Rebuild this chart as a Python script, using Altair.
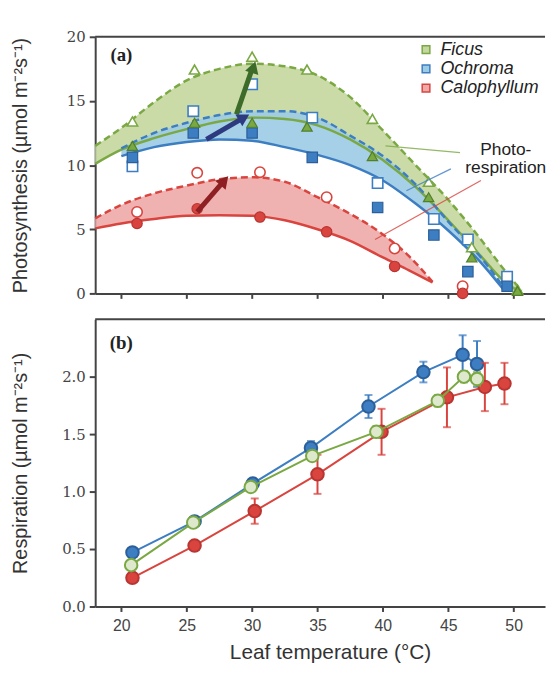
import altair as alt
import pandas as pd

# ---------------- Panel (a): photosynthesis ----------------
species = ["Ficus", "Ochroma", "Calophyllum"]

# measured points (open = gross, filled = net)
fi_t = [20.85, 25.6, 30.0, 34.2, 39.2, 43.5, 46.8, 50.3]
fi_open = [13.4, 17.45, 18.45, 17.45, 13.6, 8.7, 3.6, 0.3]
fi_fill = [11.5, 13.3, 13.3, 13.0, 10.7, 7.5, 2.8, 0.2]

oc_t = [20.85, 25.5, 30.0, 34.6, 39.6, 43.9, 46.5, 49.5]
oc_open = [9.9, 14.2, 16.3, 13.7, 8.6, 5.8, 4.2, 1.3]
oc_fill = [10.6, 12.5, 12.5, 10.6, 6.7, 4.55, 1.7, 0.56]

ca_t = [21.2, 25.8, 30.6, 35.7, 40.9, 46.1]
ca_open = [6.35, 9.4, 9.45, 7.5, 3.5, 0.56]
ca_fill = [5.45, 6.6, 5.95, 4.8, 2.1, 0.0]

# fitted curves (dashed = upper, solid = lower)
fi_ct = [18, 20, 22.5, 25, 27.5, 30, 32.5, 35, 37.5, 40, 42.5, 45, 47.5, 49, 50.6]
fi_dash = [11.5, 12.9, 14.9, 16.6, 17.5, 17.9, 17.7, 17.0, 15.3, 12.7, 10.0, 7.3, 4.2, 2.2, 0.2]
fi_solid = [10.1, 11.2, 12.1, 12.8, 13.4, 13.7, 13.6, 13.1, 12.0, 10.4, 8.3, 5.7, 2.9, 1.2, 0.0]

oc_ct = [20, 22.5, 25, 27.5, 30, 32.5, 35, 37.5, 40, 42.5, 45, 47.5, 49.3]
oc_dash = [11.3, 12.5, 13.3, 13.9, 14.2, 14.2, 13.7, 12.3, 10.7, 8.5, 5.6, 2.8, 0.4]
oc_solid = [10.7, 11.4, 11.8, 12.0, 11.9, 11.4, 10.8, 10.0, 8.8, 7.0, 4.9, 2.4, 0.2]

ca_ct = [18, 20, 22.5, 25, 27.5, 30, 32.5, 35, 37.5, 40, 42, 43.8]
ca_dash = [5.85, 6.9, 7.8, 8.4, 8.9, 9.05, 8.7, 7.5, 6.2, 4.6, 2.9, 0.9]
ca_solid = [5.07, 5.45, 5.8, 6.05, 6.1, 6.05, 5.7, 5.0, 4.1, 2.8, 1.8, 0.85]

# arrows (start -> end of shaft, and arrow-head centre)
arrow_names = ["green", "navy", "red"]
arrow_t0 = [28.8, 26.5, 25.8]
arrow_v0 = [13.95, 12.0, 6.35]
arrow_t1 = [30.0, 29.2, 27.7]
arrow_v1 = [17.5, 13.6, 8.6]
head_t = [30.1, 29.35, 27.85]
head_v = [17.6, 13.7, 8.75]

# photorespiration leader lines
lead_names = ["Ficus", "Ochroma", "Calophyllum"]
lead_t0 = [40.2, 41.8, 39.4]
lead_v0 = [11.5, 8.0, 4.2]
lead_t1 = [45.9, 45.2, 47.5]
lead_v1 = [10.97, 9.7, 8.8]

# ---------------- Panel (b): respiration ----------------
rb_oc_t = [20.85, 25.6, 30.05, 34.5, 38.9, 43.1, 46.1, 47.2]
rb_oc_v = [0.47, 0.74, 1.07, 1.38, 1.74, 2.04, 2.19, 2.11]
rb_oc_e = [0.02, 0.02, 0.04, 0.06, 0.1, 0.09, 0.17, 0.2]

rb_ca_t = [20.85, 25.6, 30.2, 35.0, 39.9, 44.9, 47.8, 49.3]
rb_ca_v = [0.25, 0.53, 0.83, 1.15, 1.52, 1.82, 1.91, 1.94]
rb_ca_e = [0.02, 0.03, 0.11, 0.17, 0.2, 0.26, 0.21, 0.18]

rb_fi_t = [20.75, 25.5, 29.9, 34.6, 39.5, 44.2, 46.2, 47.2]
rb_fi_v = [0.36, 0.73, 1.04, 1.31, 1.52, 1.79, 2.0, 1.98]
rb_fi_e = [0.02, 0.02, 0.03, 0.04, 0.05, 0.05, 0.05, 0.06]

x_ticks = [20, 25, 30, 35, 40, 45, 50]
ya_ticks = [0, 5, 10, 15, 20]
yb_ticks = [0.0, 0.5, 1.0, 1.5, 2.0]

# ---------------- styles ----------------
COL = {"Ficus": "#7aa843", "Ochroma": "#3d7ec2", "Calophyllum": "#d9443f"}
EDGE = {"Ficus": "#52802a", "Ochroma": "#2c5f99", "Calophyllum": "#b83532"}
AREA = {"Ficus": "#c4d79e", "Ochroma": "#9ccbe4", "Calophyllum": "#eeaaa7"}
SHAPE = {"Ficus": "triangle-up", "Ochroma": "square", "Calophyllum": "circle"}
ARROW_COL = {"green": "#3d6b2a", "navy": "#2e3a80", "red": "#8e1f22"}
ARROW_ANGLE = {"green": 18, "navy": 60, "red": 41}

W, HA, HB = 454, 259, 290
XDOM = [18, 52.4]
AX = "#444444"
SERIF = "DejaVu Serif"
BSERIF = "Liberation Serif"
SANS = "Liberation Sans"

def xenc(show_labels):
    return alt.X("t:Q", scale=alt.Scale(domain=XDOM, nice=False, zero=False),
                 axis=alt.Axis(values=x_ticks, labels=show_labels, ticks=True, tickSize=5,
                               tickWidth=2, tickColor=AX, domainColor=AX, domainWidth=2,
                               grid=False, labelFont=SANS, labelFontSize=16, labelColor="#444",
                               labelPadding=6,
                               title="Leaf temperature (°C)" if show_labels else None,
                               titleFont=SANS, titleFontSize=21, titleFontWeight="normal",
                               titleColor="#333", titlePadding=8, titleX=237))

def yenc(dom, vals, title, fmt):
    return alt.Y("v:Q", scale=alt.Scale(domain=dom, nice=False, zero=False),
                 axis=alt.Axis(values=vals, format=fmt, tickSize=6, tickWidth=2, tickColor=AX,
                               domainColor=AX, domainWidth=2, grid=False,
                               labelFont=SERIF, labelFontSize=15, labelColor="#444",
                               labelPadding=4,
                               title=title, titleFont=SANS, titleFontSize=20,
                               titleFontWeight="normal", titleColor="#333", titleX=-65))

# ---------------- build panel (a) ----------------
pts_cfg = [("Ficus", fi_t, fi_open, fi_fill), ("Ochroma", oc_t, oc_open, oc_fill),
           ("Calophyllum", ca_t, ca_open, ca_fill)]
crv_cfg = [("Ficus", fi_ct, fi_dash, fi_solid), ("Ochroma", oc_ct, oc_dash, oc_solid),
           ("Calophyllum", ca_ct, ca_dash, ca_solid)]

xa = xenc(False)
ya = yenc([0, 20], ya_ticks, "Photosynthesis (µmol m⁻²s⁻¹)", "d")

layers_a = []
for sp, ct, dsh, sol in crv_cfg:
    df = pd.DataFrame({"t": ct, "v": dsh, "v2": sol})
    layers_a.append(alt.Chart(df).mark_area(color=AREA[sp], opacity=0.9, interpolate="monotone")
                    .encode(x=xa, y=ya, y2="v2:Q"))
for sp, ct, dsh, sol in crv_cfg:
    df = pd.DataFrame({"t": ct, "v": dsh})
    layers_a.append(alt.Chart(df).mark_line(color=COL[sp], strokeWidth=2.5, strokeDash=[7, 4],
                                            interpolate="monotone").encode(x=xa, y=ya))
    df2 = pd.DataFrame({"t": ct, "v": sol})
    layers_a.append(alt.Chart(df2).mark_line(color=COL[sp], strokeWidth=2.5,
                                             interpolate="monotone").encode(x=xa, y=ya))
for sp, tt, op, fl in reversed(pts_cfg):
    dfo = pd.DataFrame({"t": tt, "v": op})
    layers_a.append(alt.Chart(dfo).mark_point(shape=SHAPE[sp], filled=True, fill="white",
                                              stroke=COL[sp], strokeWidth=1.6, size=110, opacity=1)
                    .encode(x=xa, y=ya))
    dff = pd.DataFrame({"t": tt, "v": fl})
    layers_a.append(alt.Chart(dff).mark_point(shape=SHAPE[sp], filled=True, fill=COL[sp],
                                              stroke=EDGE[sp], strokeWidth=1.2, size=110, opacity=1)
                    .encode(x=xa, y=ya))

# leader lines
for i, nm in enumerate(lead_names):
    df = pd.DataFrame({"t": [lead_t0[i]], "v": [lead_v0[i]], "t2": [lead_t1[i]], "v2": [lead_v1[i]]})
    layers_a.append(alt.Chart(df).mark_rule(color=COL[nm], strokeWidth=1.3, opacity=0.8)
                    .encode(x=xa, y=ya, x2="t2:Q", y2="v2:Q"))

# arrows
for i, nm in enumerate(arrow_names):
    df = pd.DataFrame({"t": [arrow_t0[i]], "v": [arrow_v0[i]], "t2": [arrow_t1[i]], "v2": [arrow_v1[i]]})
    layers_a.append(alt.Chart(df).mark_rule(color=ARROW_COL[nm], strokeWidth=5)
                    .encode(x=xa, y=ya, x2="t2:Q", y2="v2:Q"))
    dfh = pd.DataFrame({"t": [head_t[i]], "v": [head_v[i]]})
    layers_a.append(alt.Chart(dfh).mark_point(shape="triangle-up", filled=True, fill=ARROW_COL[nm],
                                              stroke=ARROW_COL[nm], size=110, opacity=1,
                                              angle=ARROW_ANGLE[nm])
                    .encode(x=xa, y=ya))

# legend
leg_t_icon = [43.3, 43.3, 43.3]
leg_t_text = [44.4, 44.4, 44.4]
leg_v = [19.0, 17.5, 16.0]
for i, sp in enumerate(species):
    dfi = pd.DataFrame({"t": [leg_t_icon[i]], "v": [leg_v[i]]})
    layers_a.append(alt.Chart(dfi).mark_point(shape="square", filled=True, fill=AREA[sp],
                                              stroke=COL[sp], strokeWidth=1.5, size=60, opacity=1)
                    .encode(x=xa, y=ya))
    dft = pd.DataFrame({"t": [leg_t_text[i]], "v": [leg_v[i]], "s": [sp]})
    layers_a.append(alt.Chart(dft).mark_text(align="left", baseline="middle", font=SANS,
                                             fontSize=18, fontStyle="italic", color="#222")
                    .encode(x=xa, y=ya, text="s:N"))

dfp = pd.DataFrame({"t": [49.4], "v": [11.2], "s": ["Photo-\nrespiration"]})
layers_a.append(alt.Chart(dfp).mark_text(align="center", baseline="middle", font=SANS, fontSize=17.5,
                                         lineBreak="\n", lineHeight=19, color="#222")
                .encode(x=xa, y=ya, text="s:N"))
dfa = pd.DataFrame({"t": [20.0], "v": [18.6], "s": ["(a)"]})
layers_a.append(alt.Chart(dfa).mark_text(align="center", baseline="middle", font=BSERIF, fontSize=19,
                                         fontWeight="bold", color="#222")
                .encode(x=xa, y=ya, text="s:N"))
layers_a.append(alt.Chart(pd.DataFrame({"v": [20]})).mark_rule(color=AX, strokeWidth=2)
                .encode(y=alt.Y("v:Q", scale=alt.Scale(domain=[0, 20]))))

panel_a = alt.layer(*layers_a).properties(width=W, height=HA)

# ---------------- build panel (b) ----------------
xb = xenc(True)
yb = yenc([0, 2.5], yb_ticks, "Respiration (µmol m⁻²s⁻¹)", ".1f")

resp_cfg = [("Ochroma", rb_oc_t, rb_oc_v, rb_oc_e, COL["Ochroma"], EDGE["Ochroma"]),
            ("Calophyllum", rb_ca_t, rb_ca_v, rb_ca_e, COL["Calophyllum"], EDGE["Calophyllum"]),
            ("Ficus", rb_fi_t, rb_fi_v, rb_fi_e, "#dde8cc", COL["Ficus"])]

layers_b = []
for sp, tt, vv, ee, fcol, scol in resp_cfg:
    df = pd.DataFrame({"t": tt, "v": vv, "lo": [a - b for a, b in zip(vv, ee)],
                       "hi": [a + b for a, b in zip(vv, ee)]})
    lc = COL[sp]
    layers_b.append(alt.Chart(df).mark_line(color=lc, strokeWidth=2).encode(x=xb, y=yb))
    layers_b.append(alt.Chart(df).mark_rule(color=lc, strokeWidth=2)
                    .encode(x=xb, y=alt.Y("lo:Q", scale=alt.Scale(domain=[0, 2.5])), y2="hi:Q"))
    layers_b.append(alt.Chart(df).mark_point(shape="stroke", color=lc, strokeWidth=2, size=64)
                    .encode(x=xb, y=alt.Y("lo:Q", scale=alt.Scale(domain=[0, 2.5]))))
    layers_b.append(alt.Chart(df).mark_point(shape="stroke", color=lc, strokeWidth=2, size=64)
                    .encode(x=xb, y=alt.Y("hi:Q", scale=alt.Scale(domain=[0, 2.5]))))
    layers_b.append(alt.Chart(df).mark_point(shape="circle", filled=True, fill=fcol, stroke=scol,
                                             strokeWidth=2, size=160, opacity=1)
                    .encode(x=xb, y=yb))

dfb = pd.DataFrame({"t": [20.0], "v": [2.29], "s": ["(b)"]})
layers_b.append(alt.Chart(dfb).mark_text(align="center", baseline="middle", font=BSERIF, fontSize=19,
                                         fontWeight="bold", color="#222")
                .encode(x=xb, y=yb, text="s:N"))
layers_b.append(alt.Chart(pd.DataFrame({"v": [2.5]})).mark_rule(color=AX, strokeWidth=2)
                .encode(y=alt.Y("v:Q", scale=alt.Scale(domain=[0, 2.5]))))

panel_b = alt.layer(*layers_b).properties(width=W, height=HB)

chart = alt.vconcat(panel_a, panel_b, spacing=17).properties(
    padding={"left": 2, "top": 19, "right": 0, "bottom": 2},
    background="white",
).configure_view(stroke=None)

chart.save("out.html", embed_options={"renderer": "svg", "actions": False})
